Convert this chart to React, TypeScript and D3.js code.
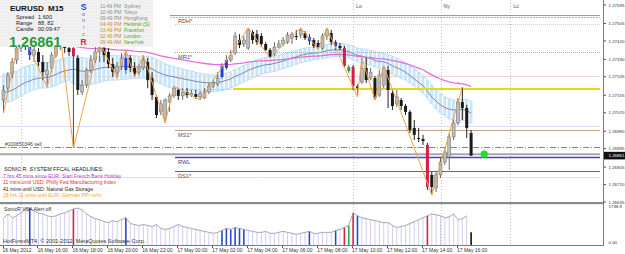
import * as d3 from "d3";

// EURUSD M15, 16 May 14:00 -> 17 May 16:45 (108 bars)
const opens = [
  1.27132, 1.2719, 1.27259, 1.27327, 1.27385, 1.27434, 1.27405, 1.27351, 1.27366, 1.27317,
  1.27254, 1.27288, 1.27351, 1.274, 1.27414, 1.27385, 1.27385, 1.27337, 1.27171, 1.27205,
  1.27278, 1.27327, 1.27366, 1.27385, 1.27366, 1.27307, 1.27268, 1.27298, 1.27278, 1.27337,
  1.27288, 1.27268, 1.27288, 1.27317, 1.27239, 1.27147, 1.27074, 1.27044, 1.27122, 1.27152,
  1.27181, 1.27152, 1.27171, 1.27156, 1.27161, 1.27147, 1.27142, 1.27171, 1.272, 1.2721,
  1.27244, 1.27288, 1.27327, 1.27361, 1.27424, 1.27405, 1.27385, 1.27463, 1.27453, 1.27444,
  1.27405, 1.27376, 1.27356, 1.2739, 1.27405, 1.27414, 1.27434, 1.27444, 1.27449, 1.27458,
  1.27439, 1.27424, 1.2741, 1.27385, 1.27444, 1.27458, 1.27414, 1.27395, 1.27385, 1.27273,
  1.27293, 1.2719, 1.2722, 1.27288, 1.27239, 1.27239, 1.27156, 1.27205, 1.27278, 1.27166,
  1.27113, 1.27132, 1.27103, 1.27074, 1.26996, 1.26947, 1.26942, 1.26913, 1.26767, 1.26703,
  1.26767, 1.2683, 1.26854, 1.26952, 1.2702, 1.27122, 1.27093, 1.26971,
];
const highs = [
  1.27205, 1.27268, 1.27337, 1.274, 1.27473, 1.27453, 1.27424, 1.274, 1.27385, 1.27351,
  1.27317, 1.27366, 1.27424, 1.27449, 1.27434, 1.27405, 1.27414, 1.27351, 1.27229, 1.27288,
  1.27351, 1.2739, 1.27414, 1.27414, 1.27385, 1.27337, 1.27317, 1.27361, 1.27376, 1.27351,
  1.27317, 1.27307, 1.27351, 1.27337, 1.27268, 1.27156, 1.27132, 1.27142, 1.27166, 1.272,
  1.2719, 1.2719, 1.2719, 1.27181, 1.27181, 1.27176, 1.2719, 1.27215, 1.27229, 1.27268,
  1.27312, 1.27351, 1.27376, 1.27463, 1.27453, 1.27444, 1.27483, 1.27473, 1.27473, 1.27458,
  1.27414, 1.27385, 1.27414, 1.27424, 1.27439, 1.27463, 1.27463, 1.27473, 1.27483, 1.27468,
  1.27453, 1.27434, 1.27424, 1.27458, 1.27483, 1.27473, 1.27424, 1.2741, 1.27395, 1.27303,
  1.27303, 1.2721, 1.27337, 1.27337, 1.27288, 1.27249, 1.27278, 1.27298, 1.27298, 1.27181,
  1.27181, 1.27142, 1.27113, 1.27083, 1.27035, 1.26996, 1.26962, 1.26923, 1.26781, 1.26781,
  1.2685, 1.26898, 1.26971, 1.27035, 1.27142, 1.27195, 1.27108, 1.26986,
];
const lows = [
  1.27069, 1.27171, 1.27239, 1.27307, 1.27366, 1.27376, 1.27327, 1.27317, 1.27298, 1.27229,
  1.27195, 1.27268, 1.27337, 1.27376, 1.27361, 1.27346, 1.26898, 1.27156, 1.27156, 1.2719,
  1.27264, 1.27312, 1.27317, 1.27317, 1.27288, 1.27244, 1.27239, 1.27278, 1.27259, 1.27268,
  1.27244, 1.27254, 1.27278, 1.2719, 1.27132, 1.27044, 1.27059, 1.2702, 1.27074, 1.27142,
  1.27132, 1.27132, 1.27142, 1.27147, 1.27137, 1.27132, 1.27137, 1.27161, 1.2719, 1.272,
  1.27234, 1.27278, 1.27317, 1.27351, 1.27385, 1.2739, 1.27376, 1.27405, 1.274, 1.2739,
  1.27371, 1.27337, 1.27346, 1.27385, 1.27395, 1.27405, 1.27405, 1.27424, 1.27434, 1.27424,
  1.274, 1.27385, 1.2738, 1.27376, 1.27424, 1.274, 1.27376, 1.27376, 1.27288, 1.27264,
  1.27181, 1.27147, 1.2721, 1.27215, 1.27229, 1.27132, 1.27147, 1.2719, 1.27093, 1.27083,
  1.27098, 1.27083, 1.27059, 1.26971, 1.26937, 1.26927, 1.26913, 1.26694, 1.26669, 1.26684,
  1.26752, 1.26815, 1.26791, 1.26937, 1.2701, 1.27035, 1.26947, 1.26859,
];
const closes = [
  1.27181, 1.27254, 1.27317, 1.27385, 1.27434, 1.27405, 1.27351, 1.27376, 1.27317, 1.27268,
  1.27278, 1.27351, 1.274, 1.27424, 1.27385, 1.27366, 1.27346, 1.27181, 1.27205, 1.27278,
  1.27327, 1.27366, 1.27385, 1.27351, 1.27307, 1.27268, 1.27298, 1.27337, 1.27337, 1.27288,
  1.27259, 1.27288, 1.27327, 1.27229, 1.27156, 1.27059, 1.27113, 1.27132, 1.27152, 1.2719,
  1.27152, 1.27171, 1.27156, 1.27166, 1.27147, 1.27166, 1.27171, 1.272, 1.27215, 1.27239,
  1.27298, 1.27327, 1.27351, 1.27444, 1.274, 1.27424, 1.27473, 1.27424, 1.27414, 1.27405,
  1.27376, 1.27341, 1.2739, 1.27405, 1.27424, 1.27449, 1.27453, 1.27439, 1.27473, 1.27434,
  1.27419, 1.27395, 1.2739, 1.27444, 1.27473, 1.27414, 1.27395, 1.27385, 1.27298, 1.27293,
  1.272, 1.272, 1.27288, 1.27229, 1.27268, 1.27142, 1.27254, 1.27288, 1.27181, 1.27103,
  1.27147, 1.27103, 1.27074, 1.26986, 1.26962, 1.26942, 1.26932, 1.26708, 1.26708, 1.26767,
  1.2683, 1.26879, 1.26952, 1.2702, 1.27122, 1.27093, 1.26996, 1.26861,
];
const volumes = [
  1236, 1464, 1281, 1373, 1510, 1693, 1738, 1602, 1510, 1464,
  1373, 1327, 1373, 1464, 1510, 1602, 1693, 1735, 1647, 1464,
  1327, 1236, 1190, 1098, 1052, 1144, 1098, 1190, 1281, 1007,
  961, 915, 961, 915, 869, 961, 778, 732, 778, 869,
  961, 869, 824, 778, 732, 686, 641, 595, 549, 595,
  686, 778, 732, 824, 778, 732, 686, 641, 595, 595,
  641, 549, 549, 595, 641, 595, 549, 503, 549, 595,
  641, 549, 549, 595, 595, 595, 686, 732, 824, 915,
  1510, 1373, 1281, 1236, 1190, 1144, 1098, 1052, 1052, 915,
  824, 869, 915, 1007, 1098, 1190, 1281, 1373, 1464, 1419,
  1373, 1281, 1327, 1464, 1190, 1236, 1373, 595,
];

// SonicR VSA colouring
const blueCandles = [6, 28, 50, 51, 70, 76, 81];
const redCandles = [16, 78, 80, 97];
const greenCandles = [79];
const blueVolumes = [6, 28, 50, 51, 52, 53, 54, 55, 70, 76, 81];
const redVolumes = [16, 78, 80, 97];
const greenVolumes = [79];

// zigzag turning points: bar index + high/low
const zigzag: [number, string][] = [
  [0, "L"], [4, "H"], [10, "L"], [13, "H"], [16, "L"], [22, "H"], [26, "L"], [28, "H"],
  [30, "L"], [32, "H"], [37, "L"], [39, "H"], [45, "L"], [56, "H"], [61, "L"], [68, "H"],
  [72, "L"], [74, "H"], [81, "L"], [82, "H"], [85, "L"], [87, "H"], [98, "L"], [105, "H"],
];

// moving average seeds (values before the first visible bar)
const seedHigh = 1.27264;
const seedLow = 1.27122;
const seedClose = 1.27166;
const seedSlow = 1.27419;

// levels
const rdh = [1.27546, 1.27536];
const prevHigh = 1.27502;
const mr1 = 1.27366;
const levelA = 1.27249;
const pivot = 1.27186;
const levelB = 1.27005;
const ms1 = 1.26986;
const sellOrder = 1.26903;
const bidLine = 1.26868;
const rwl = 1.26854;
const ds1 = 1.26786;
const levelC = 1.26757;
const bid = 1.26861;

const priceTicks = [1.27595, 1.27505, 1.2742, 1.2733, 1.27245, 1.27155, 1.2707, 1.2698, 1.26895, 1.26805, 1.2672, 1.26635];
const timeTickBars = [0, 8, 16, 24, 32, 40, 48, 56, 64, 72, 80, 88, 96, 104];
const timeTickLabels = [
  "16 May 2012", "16 May 16:00", "16 May 18:00", "16 May 20:00", "16 May 22:00",
  "17 May 00:00", "17 May 02:00", "17 May 04:00", "17 May 06:00", "17 May 08:00",
  "17 May 10:00", "17 May 12:00", "17 May 14:00", "17 May 16:00",
];
const sessionBars = [4, 80, 100, 116];
const sessionLabels = ["", "Lo", "Ny", "Lc"];

const sessionTimes = ["11:49 PM", "10:49 PM", "09:49 PM", "04:49 PM", "03:49 PM", "02:49 PM", "09:49 AM"];
const sessionCities = ["Sydney", "Tokyo", "HongKong", "Helsinki  (S)", "Frankfurt", "London", "NewYork"];
const sonicLetters = ["S", "o", "n", "i", "c", "R"];
const headlines = [
  "7 hrs 45 mins since EUR: Start French Bank Holiday",
  "11 mins until USD: Philly Fed Manufacturing Index",
  "41 mins until USD: Natural Gas Storage",
  "18 hrs 11 mins until EUR: German PPI m/m",
];

const FONT = "'Liberation Sans', Arial, sans-serif";
const W = 625;
const H = 254;

const ema = (src: number[], period: number, seed: number) => {
  const a = 2 / (period + 1);
  let v = seed;
  return src.map((s) => (v += a * (s - v)));
};

export default function App() {
  const x = d3.scaleLinear().domain([0, 107]).range([3.5, 471.1]);
  const y = d3.scaleLinear().domain([1.26635, 1.27595]).range([202, 5]);
  const yv = d3.scaleLinear().domain([0, 1738.8]).range([245, 208]);

  const emaHigh = ema(highs, 34, seedHigh);
  const emaLow = ema(lows, 34, seedLow);
  const emaClose = ema(closes, 34, seedClose);
  const emaSlow = ema(closes, 89, seedSlow);

  const priceLine = d3.line<number>().x((_, i) => x(i)).y((d) => y(d));
  const zzLine = d3
    .line<[number, string]>()
    .x((d) => x(d[0]))
    .y((d) => y(d[1] === "H" ? highs[d[0]] : lows[d[0]]));
  const volLine = d3.line<number>().x((_, i) => x(i)).y((d) => yv(d));

  const candleFill = (i: number) => {
    if (blueCandles.includes(i)) return "#2040d8";
    if (redCandles.includes(i)) return "#d81c48";
    if (greenCandles.includes(i)) return "#22a244";
    return closes[i] >= opens[i] ? "#bcbcbc" : "#1a1a1a";
  };
  const volColor = (i: number) => {
    if (i === volumes.length - 1) return "#111";
    if (blueVolumes.includes(i)) return "#2a48d0";
    if (redVolumes.includes(i)) return "#e01c48";
    if (greenVolumes.includes(i)) return "#22b040";
    return null;
  };

  const hLine = (p: number, x1: number, stroke: string, sw = 1, dash?: string) => (
    <line x1={x1} x2={600} y1={Math.round(y(p)) + 0.5} y2={Math.round(y(p)) + 0.5} stroke={stroke} strokeWidth={sw} strokeDasharray={dash} />
  );
  const label = (t: string, p: number, fill = "#505060") => (
    <text x={178} y={y(p) + 7} fontSize={5.6} fill={fill} fontFamily={FONT}>{t}</text>
  );

  return (
    <div style={{ position: "absolute", left: 0, top: 0 }}>
      <svg width={W} height={H} style={{ display: "block", background: "#fff" }}>
        <defs>
          <clipPath id="main"><rect x={0} y={0} width={603} height={202} /></clipPath>
          <clipPath id="sub"><rect x={0} y={204} width={603} height={41} /></clipPath>
          <pattern id="stip" width={3} height={3} patternUnits="userSpaceOnUse">
            <rect width={3} height={3} fill="#efefef" />
            <rect x={1} y={1} width={1} height={1} fill="#fafafa" />
          </pattern>
        </defs>

        {/* session verticals */}
        {sessionBars.map((b, k) => (
          <g key={k}>
            <line x1={Math.round(x(b)) + 0.5} x2={Math.round(x(b)) + 0.5} y1={0} y2={245} stroke="#c4c4c4" strokeDasharray="1,2" />
            <text x={x(b) + 3} y={8} fontSize={5.2} fill="#555" fontFamily={FONT}>{sessionLabels[k]}</text>
          </g>
        ))}

        <g clipPath="url(#main)">
          {/* faint full-width levels */}
          {hLine(levelA, 0, "#f4d4d4")}
          {hLine(levelB, 0, "#dcdcf4")}
          {hLine(levelC, 0, "#f2dada")}
          {hLine(prevHigh, 175, "#9ee0ea", 1, "1,1")}

          {/* sonic R dragon */}
          {closes.map((_, i) => (
            <rect key={i} x={x(i) - 1.6} width={3} y={y(emaHigh[i])} height={y(emaLow[i]) - y(emaHigh[i])} fill="#c9e5f8" />
          ))}
          <path d={priceLine(emaHigh) || ""} fill="none" stroke="#b0d8f2" strokeWidth={0.8} />
          <path d={priceLine(emaLow) || ""} fill="none" stroke="#b0d8f2" strokeWidth={0.8} />
          <path d={priceLine(emaClose) || ""} fill="none" stroke="#8585a8" strokeWidth={1} />
          <path d={priceLine(emaSlow) || ""} fill="none" stroke="#e070e0" strokeWidth={1.3} />

          {/* levels */}
          {hLine(rdh[0], 170, "#f07a66", 1.2)}
          {hLine(rdh[1], 170, "#f29a88", 1, "2,1")}
          {hLine(mr1, 175, "#c8a470", 1, "1,1")}
          {hLine(pivot, 175, "#d8cc30", 1, "1,1")}
          <line x1={233} x2={600} y1={y(pivot)} y2={y(pivot)} stroke="#e8d81a" strokeWidth={2} />
          {hLine(ms1, 175, "#c0a480", 1)}
          {hLine(sellOrder, 0, "#e06450", 1, "6,2,1,2")}
          <line x1={0} x2={600} y1={y(bidLine)} y2={y(bidLine)} stroke="#a8a8a8" strokeWidth={2} />
          {hLine(rwl, 175, "#3a4ad0", 1.6)}
          {hLine(ds1, 175, "#5c5cc4", 1)}

          {/* candles */}
          {closes.map((c, i) => {
            const o = opens[i];
            const top = y(Math.max(o, c));
            const h = Math.max(1, Math.abs(y(o) - y(c)));
            const bull = c >= o;
            return (
              <g key={i}>
                <line x1={x(i)} x2={x(i)} y1={y(highs[i])} y2={y(lows[i])} stroke={i === 16 ? "#4a4a7a" : bull ? "#6a6a6a" : "#222"} strokeWidth={1} />
                <rect x={x(i) - 1.5} y={top} width={3} height={h} fill={candleFill(i)} stroke={bull && candleFill(i) === "#bcbcbc" ? "#6c6c6c" : "none"} strokeWidth={0.5} />
              </g>
            );
          })}

          {/* zigzag */}
          <path d={zzLine(zigzag) || ""} fill="none" stroke="#f4a246" strokeWidth={1} />

          {/* level labels */}
          {label("RDH*", rdh[0] - 0.00005)}
          {label("MR1*", mr1)}
          {label("MS1*", ms1)}
          {label("RWL", rwl, "#404070")}
          {label("DS1*", ds1)}
          <text x={5} y={y(sellOrder) - 1.5} fontSize={5} fill="#404040" fontFamily={FONT}>#100850346 sell</text>

          <circle cx={x(110)} cy={y(bidLine)} r={3.6} fill="#22dd22" />
        </g>

        {/* info panel */}
        <rect x={0} y={0} width={153} height={47} fill="url(#stip)" />
        <text x={10} y={11} fontSize={8} fontWeight="bold" fill="#111" fontFamily={FONT}>EURUSD</text>
        <text x={48} y={11} fontSize={8} fontWeight="bold" fill="#111" fontFamily={FONT}>M15</text>
        <text x={16} y={18.5} fontSize={5.6} fill="#222" fontFamily={FONT}>Spread</text>
        <text x={38} y={18.5} fontSize={5.6} fill="#222" fontFamily={FONT}>1.600</text>
        <text x={16} y={25} fontSize={5.6} fill="#222" fontFamily={FONT}>Range</text>
        <text x={38} y={25} fontSize={5.6} fill="#222" fontFamily={FONT}>88, 82</text>
        <text x={16} y={31} fontSize={5.6} fill="#222" fontFamily={FONT}>Candle</text>
        <text x={38} y={31} fontSize={5.6} fill="#222" fontFamily={FONT}>00:09:47</text>
        <text x={9} y={46.5} fontSize={14.5} fontWeight="bold" fill="#2a9a3c" fontFamily={FONT}>{d3.format(".5f")(bid)}</text>
        {sonicLetters.map((s, k) => {
          const big = k === 0 || k === 5;
          const cols = ["#1e3cf0", "#6a50d0", "#8a50b0", "#b04c90", "#d83c64", "#ee2020"];
          const ys = [10, 15.5, 22, 29, 35.5, 45];
          return (
            <text key={k} x={83.5} y={ys[k]} textAnchor="middle" fontSize={big ? 8.5 : 5.5} fontWeight={big ? "bold" : "normal"} fill={cols[k]} fontFamily={FONT}>{s}</text>
          );
        })}
        {sessionTimes.map((t, k) => (
          <g key={k}>
            <text x={100} y={7.5 + k * 6.1} fontSize={5} fill={k < 3 ? "#8c8c8c" : "#c88c40"} fontFamily={FONT}>{t}</text>
            <text x={124} y={7.5 + k * 6.1} fontSize={5} fill={k < 3 ? "#8c8c8c" : "#3aa83a"} fontFamily={FONT}>{sessionCities[k]}</text>
          </g>
        ))}

        {/* headlines */}
        <text x={4} y={171} fontSize={5.4} fill="#222" fontFamily={FONT}>SONIC R. SYSTEM  FFCAL HEADLINES:</text>
        {headlines.map((h, k) => (
          <text key={k} x={3} y={178 + k * 6.3} fontSize={5.1} fill={["#c038c8", "#e82c2c", "#222", "#f0a030"][k]} fontFamily={FONT}>{h}</text>
        ))}

        {/* panel borders */}
        <rect x={0} y={202} width={604} height={2.2} fill="#8a8a8a" />
        <line x1={0} x2={604} y1={245.5} y2={245.5} stroke="#7a7a7a" />
        <line x1={603.5} x2={603.5} y1={0} y2={246} stroke="#7a7a7a" />

        {/* volume subwindow */}
        <g clipPath="url(#sub)">
          {volumes.map((v, i) => {
            const c = volColor(i);
            return (
              <line key={i} x1={x(i)} x2={x(i)} y1={yv(v)} y2={245} stroke={c || "#ccd0ec"} strokeWidth={c ? 1.6 : 1} />
            );
          })}
          <path d={volLine(volumes.slice(0, -1)) || ""} fill="none" stroke="#9c9cae" strokeWidth={0.9} />
        </g>
        <text x={4} y={211} fontSize={5.2} fill="#333" fontFamily={FONT}>SonicR VSA    Alert off.</text>
        <text x={3} y={243} fontSize={5.6} fill="#333" fontFamily={FONT}>HotForexMT4, © 2001-2012, MetaQuotes Software Corp.</text>

        {/* price axis */}
        {priceTicks.map((p, k) => (
          <g key={k}>
            <line x1={603.5} x2={606} y1={y(p)} y2={y(p)} stroke="#555" />
            <text x={608.5} y={y(p) + 1.6} fontSize={4.4} fill="#333" fontFamily={FONT}>{d3.format(".5f")(p)}</text>
          </g>
        ))}
        <rect x={604} y={y(bid) - 3.8} width={21} height={7.6} fill="#111" />
        <text x={608.5} y={y(bid) + 1.6} fontSize={4.4} fill="#fff" fontFamily={FONT}>{d3.format(".5f")(bid)}</text>
        <text x={608.5} y={208} fontSize={4.4} fill="#333" fontFamily={FONT}>1738.8</text>
        <text x={608.5} y={244} fontSize={4.4} fill="#333" fontFamily={FONT}>0.00</text>

        {/* time axis */}
        {timeTickBars.map((b, k) => (
          <g key={k}>
            <line x1={Math.round(x(b)) - 0.5} x2={Math.round(x(b)) - 0.5} y1={246} y2={248} stroke="#555" />
            <text x={x(b) - 1} y={252} fontSize={5} fill="#333" fontFamily={FONT}>{timeTickLabels[k]}</text>
          </g>
        ))}
      </svg>
    </div>
  );
}
